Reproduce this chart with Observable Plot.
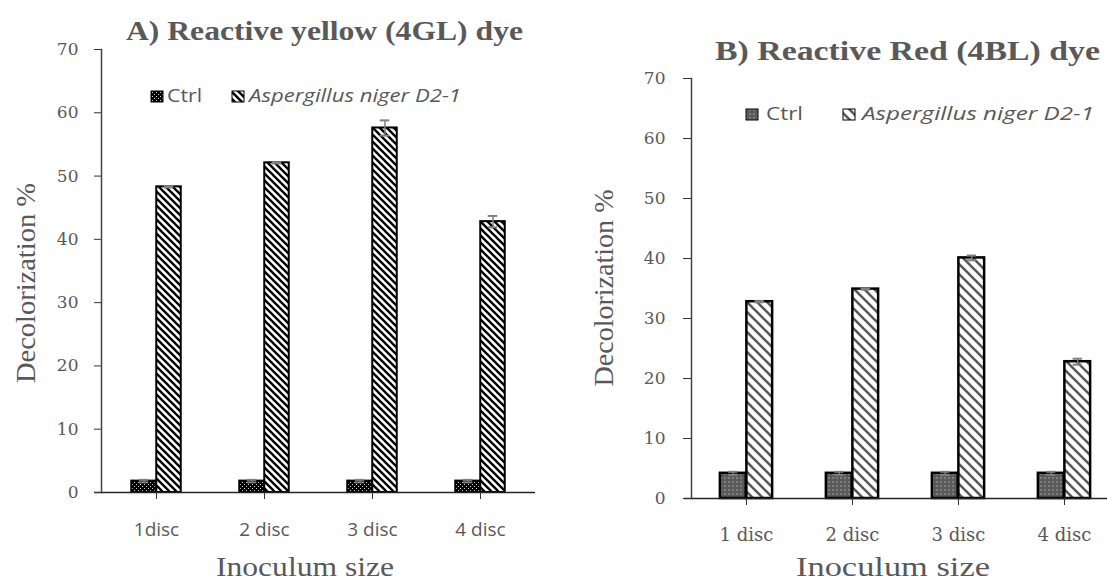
<!DOCTYPE html>
<html><head><meta charset="utf-8">
<script src="https://cdn.jsdelivr.net/npm/d3@7"></script>
<script src="https://cdn.jsdelivr.net/npm/@observablehq/plot@0.6"></script>
<style>
html,body{margin:0;padding:0;background:#fff;overflow:hidden;}
#wrap{position:relative;width:1107px;height:582px;overflow:hidden;background:#fff;}
#wrap > svg{position:absolute;}
</style></head><body>
<svg width="0" height="0" style="position:absolute">
<defs>
  <pattern id="dotsBlack" patternUnits="userSpaceOnUse" width="4" height="4">
    <rect width="4" height="4" fill="#000"/>
    <rect x="0" y="0" width="1" height="1" fill="#d0d0d0"/>
    <rect x="2" y="2" width="1" height="1" fill="#d0d0d0"/>
  </pattern>
  <pattern id="dotsGray" patternUnits="userSpaceOnUse" width="4" height="4">
    <rect width="4" height="4" fill="#5a5a5a"/>
    <rect x="1.5" y="1.5" width="1" height="1" fill="#e8e8e8"/>
  </pattern>
  <pattern id="stripesBlack" patternUnits="userSpaceOnUse" width="7" height="7">
    <rect width="7" height="7" fill="#fff"/>
    <path d="M-1,6 L1,8 M0,0 L7,7 M6,-1 L8,1" stroke="#000" stroke-width="2.3"/>
  </pattern>
  <pattern id="stripesGray" patternUnits="userSpaceOnUse" width="10" height="10">
    <rect width="10" height="10" fill="#fff"/>
    <path d="M-1,9 L1,11 M0,0 L10,10 M9,-1 L11,1" stroke="#5a5a5a" stroke-width="2.6"/>
  </pattern>
</defs></svg>
<div id="wrap"></div>
<script>
// ---------- data ----------
const categoriesA = ["1disc", "2 disc", "3 disc", "4 disc"];
const ctrlA = [1.8, 1.8, 1.8, 1.8];
const ctrlErrA = [0.2, 0.2, 0.2, 0.2];
const aspA = [48.3, 52.1, 57.6, 42.8];
const aspErrA = [0.1, 0.1, 1.2, 0.9];

const categoriesB = ["1 disc", "2 disc", "3 disc", "4 disc"];
const ctrlB = [4.2, 4.2, 4.2, 4.2];
const ctrlErrB = [0.25, 0.25, 0.25, 0.25];
const aspB = [32.8, 34.9, 40.1, 22.8];
const aspErrB = [0.1, 0.1, 0.4, 0.5];

const yTicks = [0, 10, 20, 30, 40, 50, 60, 70];
const seriesNames = ["Ctrl", "Aspergillus niger D2-1"];
const titles = ["A) Reactive yellow (4GL) dye", "B) Reactive Red (4BL) dye"];
const yLabel = "Decolorization %";
const xLabel = "Inoculum size";

const TEXT = "#595959";

function panel(cfg) {
  const rows = cfg.cats.map((c, i) => ({cat: c, ctrl: cfg.ctrl[i], ctrlErr: cfg.ctrlErr[i], asp: cfg.asp[i], aspErr: cfg.aspErr[i]}));
  const bw = (cfg.width - cfg.ml - cfg.mr) / cfg.cats.length;
  const half = bw / 2, w = cfg.barW, cap = 5;
  const err = (key, ekey, off) => [
    Plot.ruleX(rows, {x: "cat", y1: d => d[key] - d[ekey], y2: d => d[key] + d[ekey], dx: off, stroke: "#808080", strokeWidth: 1.5}),
    Plot.tickY(rows, {x: "cat", y: d => d[key] + d[ekey], insetLeft: half + off - cap, insetRight: half - off - cap, stroke: "#808080", strokeWidth: 2}),
    Plot.tickY(rows, {x: "cat", y: d => d[key] - d[ekey], insetLeft: half + off - cap, insetRight: half - off - cap, stroke: "#808080", strokeWidth: 2})
  ];
  const svg = Plot.plot({
    width: cfg.width, height: 582,
    marginLeft: cfg.ml, marginRight: cfg.mr, marginTop: cfg.mt, marginBottom: cfg.mb,
    x: {domain: cfg.cats, padding: 0, label: null},
    y: {domain: [0, 70], label: null},
    style: {background: "transparent", overflow: "visible"},
    marks: [
      Plot.barY(rows, {x: "cat", y: "ctrl", fill: cfg.ctrlFill, stroke: "#000", strokeWidth: cfg.sw, insetLeft: half - w, insetRight: half}),
      Plot.barY(rows, {x: "cat", y: "asp", fill: cfg.aspFill, stroke: "#000", strokeWidth: cfg.sw, insetLeft: half, insetRight: half - w}),
      ...err("ctrl", "ctrlErr", -w / 2),
      ...err("asp", "aspErr", w / 2),
      Plot.ruleY([0], {stroke: "#222", strokeWidth: 1.5, insetLeft: -7}),
      Plot.frame({anchor: "left", stroke: "#444", strokeWidth: 1.5}),
      Plot.axisY({ticks: yTicks, tickSize: cfg.yTickSize, tickPadding: cfg.yTickPad, fontSize: 17, fontFamily: "DejaVu Serif", fill: TEXT, stroke: "#333", label: null}),
      Plot.axisX({tickSize: 7, tickPadding: 23, fontSize: cfg.xFont, fontFamily: cfg.xFamily, fill: TEXT, stroke: "#333", label: null})
    ]
  });
  svg.style.left = cfg.left + "px";
  svg.style.top = "0px";
  return svg;
}

const wrap = document.getElementById("wrap");
wrap.appendChild(panel({
  cats: categoriesA, ctrl: ctrlA, ctrlErr: ctrlErrA, asp: aspA, aspErr: aspErrA,
  left: 0, width: 555, ml: 101, mr: 20, mt: 49, mb: 90, barW: 25, sw: 2,
  ctrlFill: "url(#dotsBlack)", aspFill: "url(#stripesBlack)",
  yTickSize: 7, yTickPad: 16, xFont: 19, xFamily: "Open Sans"
}));
wrap.appendChild(panel({
  cats: categoriesB, ctrl: ctrlB, ctrlErr: ctrlErrB, asp: aspB, aspErr: aspErrB,
  left: 555, width: 575, ml: 136, mr: 12, mt: 78, mb: 84, barW: 26.5, sw: 2.5,
  ctrlFill: "url(#dotsGray)", aspFill: "url(#stripesGray)",
  yTickSize: 8, yTickPad: 18, xFont: 18, xFamily: "DejaVu Serif"
}));

// ---------- overlay texts & legends ----------
const ov = d3.select("#wrap").append("svg").attr("width", 1107).attr("height", 582).style("left", "0px").style("top", "0px");
function txt(x, y, s, o = {}) {
  const t = ov.append("text").attr("x", x).attr("y", y).text(s)
    .attr("fill", o.fill || TEXT)
    .attr("font-family", o.family || "Liberation Serif")
    .attr("font-size", o.size || 28)
    .attr("font-weight", o.weight || "normal")
    .attr("font-style", o.style || "normal")
    .attr("text-anchor", o.anchor || "start");
  if (o.len) t.attr("textLength", o.len).attr("lengthAdjust", "spacingAndGlyphs");
  if (o.rotate) t.attr("transform", `rotate(${o.rotate},${x},${y})`);
  if (o.baseline) t.attr("dominant-baseline", o.baseline);
  return t;
}
// titles
txt(126, 40, titles[0], {weight: "bold", size: 28, len: 397});
txt(715, 60, titles[1], {weight: "bold", size: 28, len: 385});
// y labels
txt(25, 283, yLabel, {anchor: "middle", rotate: -90, baseline: "central", size: 28, len: 200});
txt(603, 288, yLabel, {anchor: "middle", rotate: -90, baseline: "central", size: 28, len: 197});
// x labels
txt(305, 576, xLabel, {anchor: "middle", size: 28, len: 178});
txt(893, 576, xLabel, {anchor: "middle", size: 27, len: 194});
// legends
function legend(cfg) {
  ov.append("rect").attr("x", cfg.s1).attr("y", cfg.y - 11).attr("width", 12).attr("height", 11).attr("fill", cfg.f1).attr("stroke", "#000").attr("stroke-width", 1);
  txt(cfg.t1, cfg.y, seriesNames[0], {family: "Open Sans", size: 18, len: cfg.l1});
  ov.append("rect").attr("x", cfg.s2).attr("y", cfg.y - 11).attr("width", 12).attr("height", 11).attr("fill", cfg.f2).attr("stroke", "#000").attr("stroke-width", 1);
  txt(cfg.t2, cfg.y, seriesNames[1], {family: "Open Sans", style: "italic", size: 18, len: cfg.l2});
}
legend({y: 102, s1: 151, t1: 167, l1: 35, s2: 232, t2: 249, l2: 212, f1: "url(#dotsBlack)", f2: "url(#stripesBlack)"});
legend({y: 120, s1: 746, t1: 766, l1: 37, s2: 843, t2: 862, l2: 232, f1: "url(#dotsGray)", f2: "url(#stripesGray)"});
</script>
</body></html>
